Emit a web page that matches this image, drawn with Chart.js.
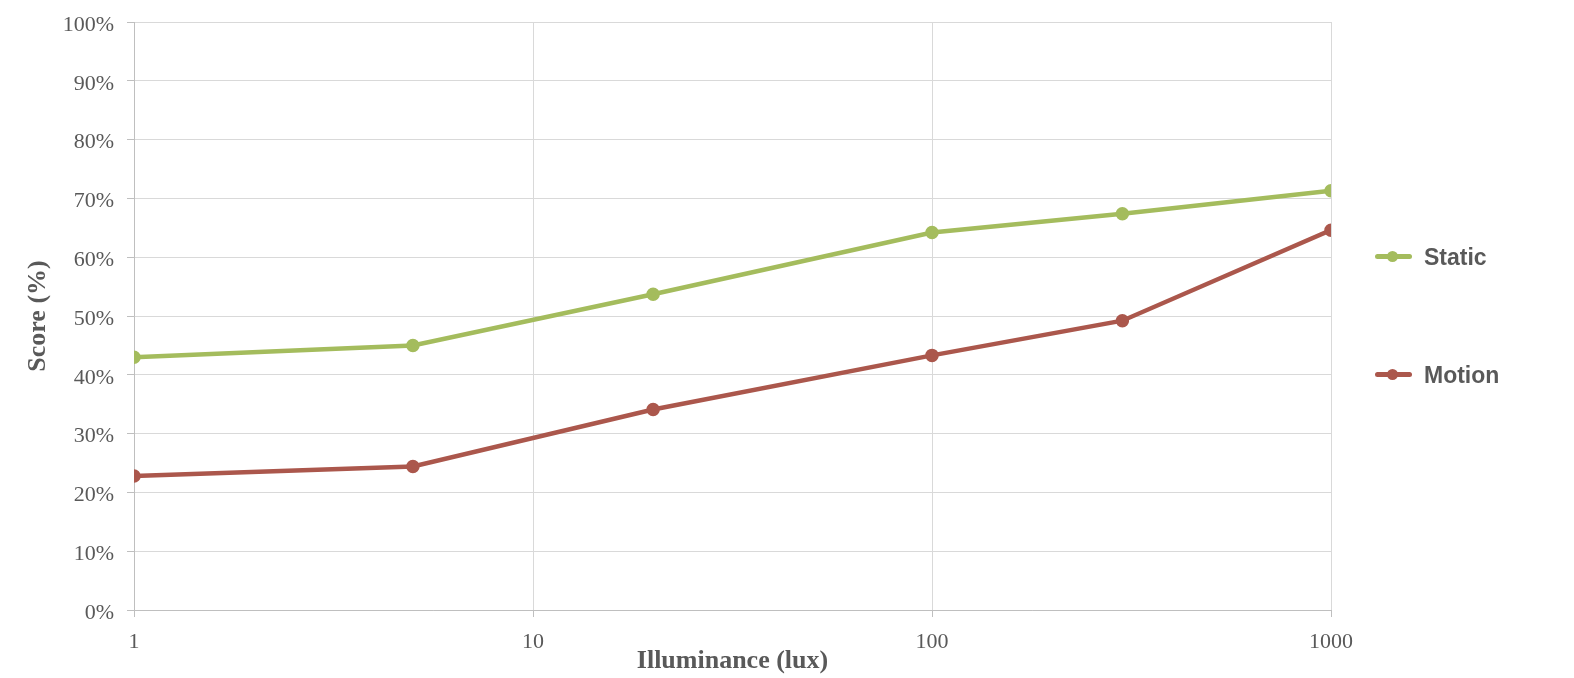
<!DOCTYPE html>
<html>
<head>
<meta charset="utf-8">
<script src="https://cdn.jsdelivr.net/npm/chart.js@4/dist/chart.umd.min.js"></script>
<style>
  body { margin: 0; background: #fff; }
  #wrap { position: relative; width: 1574px; height: 678px; }
  #legend { position: absolute; left: 1375px; top: 0; font-family: "Liberation Sans", Arial, sans-serif; font-weight: bold; font-size: 23px; color: #595959; }
  .item { position: absolute; left: 0; white-space: nowrap; height: 30px; line-height: 30px; }
  .swatch { position: absolute; left: 0; top: 12px; width: 37px; height: 5px; border-radius: 3px; }
  .dot { position: absolute; left: 12px; top: -3px; width: 11px; height: 11px; border-radius: 50%; }
  .label { position: absolute; left: 49px; top: 0; }
</style>
</head>
<body>
<div id="wrap">
  <canvas id="chart" width="1574" height="678"></canvas>
  <div id="legend"></div>
</div>
<script>
// illuminance values (lux)
const lux = [1, 5, 20, 100, 300, 1000];
const xTicks = [1, 10, 100, 1000];
// scores in %
const staticScore = [43.0, 45.0, 53.7, 64.2, 67.4, 71.3];
const motionScore = [22.8, 24.4, 34.1, 43.3, 49.2, 64.6];

const seriesNames = ['Static', 'Motion'];
const seriesColors = ['#a4bc5d', '#ab574c'];
const legendTops = [242, 360];

const serif = '"Liberation Serif", "Times New Roman", serif';
const textColor = '#595959';

const toPoints = (ys) => lux.map((x, i) => ({ x: x, y: ys[i] }));

const datasets = [staticScore, motionScore].map((ys, i) => ({
    label: seriesNames[i],
    data: toPoints(ys),
    borderColor: seriesColors[i],
    backgroundColor: seriesColors[i],
    borderWidth: 4.5,
    pointRadius: 4.5,
    pointHoverRadius: 4.5,
    tension: 0
}));

const ctx = document.getElementById('chart').getContext('2d');
new Chart(ctx, {
    type: 'line',
    data: { datasets: datasets },
    options: {
        responsive: false,
        animation: false,
        layout: { padding: { top: 22, right: 243, bottom: 0, left: 0 } },
        plugins: { legend: { display: false }, tooltip: { enabled: false } },
        scales: {
            x: {
                type: 'logarithmic',
                min: 1,
                max: 1000,
                afterBuildTicks: (scale) => { scale.ticks = xTicks.map(v => ({ value: v })); },
                afterFit: (scale) => { scale.height = 68; },
                ticks: {
                    callback: (v) => String(v),
                    font: { family: serif, size: 22 },
                    color: textColor,
                    padding: 12,
                    maxRotation: 0,
                    autoSkip: false
                },
                grid: { color: '#d9d9d9', tickColor: '#bfbfbf', tickLength: 7 },
                border: { color: '#bfbfbf' },
                title: {
                    display: true,
                    text: 'Illuminance (lux)',
                    font: { family: serif, size: 26, weight: 'bold' },
                    color: textColor,
                    padding: { top: 0, bottom: 1 }
                }
            },
            y: {
                min: 0,
                max: 100,
                afterFit: (scale) => {
                    scale.width = 134;
                    scale.paddingTop = 0;
                    scale.paddingBottom = 0;
                },
                ticks: {
                    stepSize: 10,
                    callback: (v) => v + '%',
                    font: { family: serif, size: 22 },
                    color: textColor,
                    padding: 13,
                    labelOffset: 3
                },
                grid: { color: '#d9d9d9', tickColor: '#bfbfbf', tickLength: 7 },
                border: { color: '#bfbfbf' },
                title: {
                    display: true,
                    text: 'Score (%)',
                    font: { family: serif, size: 26, weight: 'bold' },
                    color: textColor,
                    padding: { top: 23, bottom: 0 }
                }
            }
        }
    }
});

// legend on the right side
const legendDiv = document.getElementById('legend');
seriesNames.forEach((name, i) => {
    const item = document.createElement('div');
    item.className = 'item';
    item.style.top = legendTops[i] + 'px';
    item.innerHTML = `
        <div class="swatch" style="background:${seriesColors[i]}">
            <div class="dot" style="background:${seriesColors[i]}"></div>
        </div>
        <div class="label">${name}</div>
    `;
    legendDiv.appendChild(item);
});
</script>
</body>
</html>
